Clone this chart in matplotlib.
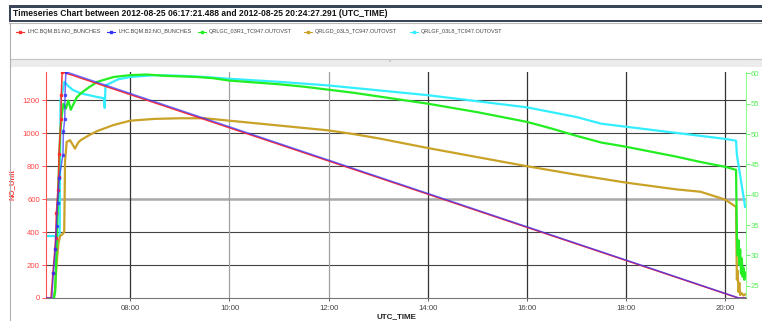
import matplotlib
matplotlib.use("Agg")
import matplotlib.pyplot as plt
import matplotlib.dates as mdates
import matplotlib.transforms as mtransforms
from matplotlib.patches import Rectangle
from matplotlib.lines import Line2D
from matplotlib import font_manager
import pandas as pd

DAY = "2012-08-25 "

def ts(lst):
    return pd.to_datetime([DAY + t for t in lst], format="mixed")

# --- dane ---
t_start, t_end = "06:17:21", "20:24:27"

# NO_BUNCHES (lewa oś)
t_b1 = ["06:17:21", "06:24:00", "06:26:20", "06:28:40", "06:29:40", "06:30:30", "06:32:20",
        "06:33:10", "06:33:40", "06:36:00", "06:36:30", "06:37:30", "20:15:30", "20:24:27"]
v_b1 = [0, 0, 150, 297, 365, 515, 655, 735, 873, 1085, 1235, 1374, 0, 0]

t_b2 = ["06:17:21", "06:25:00", "06:26:50", "06:29:10", "06:30:40", "06:32:00", "06:34:00",
        "06:38:30", "06:39:00", "06:40:40", "06:41:00", "06:42:00", "20:16:30", "20:24:27"]
v_b2 = [0, 0, 150, 297, 440, 580, 730, 871, 1012, 1085, 1235, 1374, 0, 0]

# temperatury (prawa oś)
t_gc = ["06:27", "06:29", "06:31", "06:33", "06:35", "06:37", "06:39", "06:42", "06:45", "06:48",
        "06:50", "06:53", "06:55", "07:00", "07:10", "07:20", "07:40", "08:00", "08:20", "08:40",
        "09:00", "09:20", "09:40", "10:00", "10:30", "11:00", "11:30", "12:00", "12:30", "13:00",
        "13:30", "14:00", "14:30", "15:00", "15:30", "16:00", "16:30", "17:00", "17:30", "18:00",
        "18:30", "19:00", "19:30", "20:00", "20:13", "20:14", "20:15", "20:16", "20:17", "20:18",
        "20:19", "20:20", "20:21", "20:22", "20:23", "20:24"]
v_gc = [22.5, 24.0, 32.0, 42.0, 50.0, 53.0, 55.0, 54.2, 55.5, 54.0, 54.6, 55.4, 56.0, 56.7,
        57.7, 58.6, 59.4, 59.7, 59.8, 59.6, 59.5, 59.4, 59.2, 58.8, 58.5, 58.2, 57.8, 57.3,
        56.8, 56.2, 55.6, 55.0, 54.3, 53.6, 52.8, 52.0, 50.9, 49.7, 48.6, 47.9, 47.1, 46.3,
        45.4, 44.6, 44.1, 33.5, 30.0, 32.5, 28.5, 31.0, 27.0, 29.5, 26.5, 28.0, 26.0, 27.2]

t_gd = ["06:27", "06:29", "06:31", "06:33", "06:35", "06:38", "06:40", "06:41", "06:43", "06:47",
        "06:50", "06:53", "06:57", "07:00", "07:10", "07:20", "07:40", "08:00", "08:30", "09:00",
        "09:30", "10:00", "10:30", "11:00", "11:30", "12:00", "12:30", "13:00", "13:30", "14:00",
        "15:00", "16:00", "17:00", "18:00", "19:00", "19:30", "20:00", "20:13", "20:14", "20:15",
        "20:16", "20:17", "20:18", "20:20", "20:22", "20:24"]
v_gd = [22.8, 24.5, 29.0, 32.0, 33.2, 33.5, 33.9, 45.5, 48.7, 49.0, 48.3, 47.6, 48.6, 49.0,
        49.8, 50.5, 51.5, 52.2, 52.5, 52.6, 52.6, 52.2, 51.8, 51.4, 51.0, 50.6, 50.0, 49.3,
        48.5, 47.7, 46.2, 44.7, 43.3, 42.0, 40.9, 40.5, 39.2, 38.0, 26.0, 27.5, 24.0, 25.5,
        23.5, 23.8, 23.4, 23.6]

t_gf = ["06:17:21", "06:34:30", "06:35:30", "06:36", "06:38", "06:40", "06:45", "06:50", "06:55",
        "07:00", "07:10", "07:20", "07:28", "07:29", "07:30", "07:45", "08:00", "08:30", "09:00",
        "09:30", "10:00", "11:00", "12:00", "13:00", "14:00", "15:00", "16:00", "17:00", "17:30",
        "18:00", "19:00", "20:00", "20:13", "20:14", "20:24"]
v_gf = [33.2, 33.2, 55.5, 56.0, 57.0, 58.6, 57.9, 57.3, 57.0, 56.7, 56.4, 56.1, 55.9, 54.3,
        58.0, 59.0, 59.4, 59.7, 59.6, 59.4, 59.1, 58.6, 58.0, 57.2, 56.4, 55.4, 54.4, 52.8,
        51.7, 51.2, 50.2, 49.2, 48.9, 46.6, 38.0]

names = ["LHC.BQM.B1:NO_BUNCHES", "LHC.BQM.B2:NO_BUNCHES", "QRLGC_03R1_TC947.OUTOVST",
         "QRLGD_03L5_TC947.OUTOVST", "QRLGF_03L8_TC947.OUTOVST"]
colors = ["#ff3030", "#3030ff", "#22ee22", "#c9a227", "#33eeff"]

left_ticks = [0, 200, 400, 600, 800, 1000, 1200]
right_ticks = [25, 30, 35, 40, 45, 50, 55, 60]
x_ticks = ["08:00", "10:00", "12:00", "14:00", "16:00", "18:00", "20:00"]

# --- fonty ---
plt.rcParams["font.family"] = ["Liberation Sans", "DejaVu Sans"]

W, H = 762, 321
fig = plt.figure(figsize=(W / 100, H / 100), dpi=100)
fig.patch.set_facecolor("white")

def box(x0, y0, x1, y1, **kw):
    fig.add_artist(Rectangle((x0 / W, 1 - y1 / H), (x1 - x0) / W, (y1 - y0) / H,
                             transform=fig.transFigure, **kw))

def hline(x0, x1, y, **kw):
    fig.add_artist(Line2D([x0 / W, x1 / W], [1 - y / H, 1 - y / H], transform=fig.transFigure, **kw))

# ramka tytułu
box(9, 5, 770, 22, facecolor="#3a4658", edgecolor="none")
box(11, 8, 770, 19.5, facecolor="white", edgecolor="none")
hline(9, 762, 23, color="#b8b8b8", lw=0.8)
fig.text(13 / W, 1 - 14 / H, "Timeseries Chart between 2012-08-25 06:17:21.488 and 2012-08-25 20:24:27.291 (UTC_TIME)",
         fontsize=6.15, fontweight="bold", va="center", ha="left", color="#111")

# pasek pod legendą
box(9.5, 59, 770, 67, facecolor="#ececec", edgecolor="none")
hline(9.5, 762, 59, color="#c4c4c4", lw=0.8)
fig.add_artist(Line2D([9.5 / W, 9.5 / W], [0, 1 - 23 / H], transform=fig.transFigure, color="#b0b0b0", lw=0.8))
fig.text(390 / W, 1 - 63 / H, "^", fontsize=3.5, color="#999", ha="center", va="center")

# legenda
leg_x = [16, 107, 198, 304, 410]
for lx, name, c in zip(leg_x, names, colors):
    fig.add_artist(Line2D([lx / W, (lx + 8) / W], [1 - 31.5 / H] * 2, transform=fig.transFigure,
                          color=c, lw=0.8))
    fig.add_artist(Line2D([(lx + 4) / W], [1 - 31.5 / H], transform=fig.transFigure,
                          color=c, marker="s", markersize=1.8, lw=0))
    fig.text((lx + 11) / W, 1 - 31.5 / H, name, fontsize=3.95,
             color="#444", va="center", ha="left")

# --- wykres ---
ax = fig.add_axes([45.5 / W, 1 - 298 / H, 700 / W, (298 - 71.5) / H])
ax2 = ax.twinx()
ax.yaxis.tick_right()
ax.yaxis.set_label_position("right")
ax2.yaxis.tick_left()
ax2.yaxis.set_label_position("left")

xmin, xmax = ts([t_start, t_end])
ax.set_xlim(xmin, xmax)
ax.set_ylim(23.0, 60.3)
ax2.set_ylim(0, 1376)

# siatka
trans_h = mtransforms.blended_transform_factory(ax.transAxes, ax2.transData)
for v in left_ticks[1:]:
    if v == 600:
        ax.plot([0, 1], [v, v], transform=trans_h, color="#a8a8a8", lw=1.8, zorder=0.5)
    else:
        ax.plot([0, 1], [v, v], transform=trans_h, color="#444", lw=0.8, zorder=0.5)
for t in ts(x_ticks):
    c = "#a0a0a0" if t.hour in (10, 12) else "#333"
    ax.axvline(t, color=c, lw=0.9, zorder=0.5)

# temperatury
ax.plot(ts(t_gf), v_gf, color=colors[4], lw=1.6, zorder=2)
ax.plot(ts(t_gd), v_gd, color=colors[3], lw=1.6, zorder=3)
ax.plot(ts(t_gc), v_gc, color=colors[2], lw=1.6, zorder=4)

# NO_BUNCHES
ax2.plot(ts(t_b1), v_b1, color=colors[0], lw=1.1, marker="s", ms=2.0, markevery=list(range(2, 12)))
ax2.plot(ts(t_b2), v_b2, color=colors[1], lw=1.1, alpha=0.7, marker="s", ms=2.0,
         markevery=list(range(2, 12)))

ax.set_xticks(ts(x_ticks))
ax.xaxis.set_major_formatter(mdates.DateFormatter("%H:%M"))
ax.set_yticks(right_ticks)
ax2.set_yticks(left_ticks)

ax.tick_params(axis="x", colors="#444", labelsize=5.6, length=2, width=0.6, pad=3)
ax.tick_params(axis="y", colors="#55ee55", labelsize=5.6, length=3, width=0.6, pad=1)
ax2.tick_params(axis="y", colors="#ff4444", labelsize=5.6, length=3, width=0.6, pad=1)

for s in ax2.spines.values():
    s.set_visible(False)
ax.spines["top"].set_visible(False)
ax.spines["left"].set_color("#ff5050")
ax.spines["right"].set_color("#90ff90")
ax.spines["bottom"].set_color("#777")
for s in ax.spines.values():
    s.set_linewidth(0.8)

ax2.set_ylabel("NO_Unit", color="#ff4040", fontsize=5.6, fontweight="bold")
ax2.yaxis.set_label_coords(-0.043, 0.5)
fig.text(396 / W, 1 - 317 / H, "UTC_TIME", fontsize=5.8, fontweight="bold", color="#222",
         ha="center", va="center")

fig.savefig("out.png", dpi=100, facecolor="white")
